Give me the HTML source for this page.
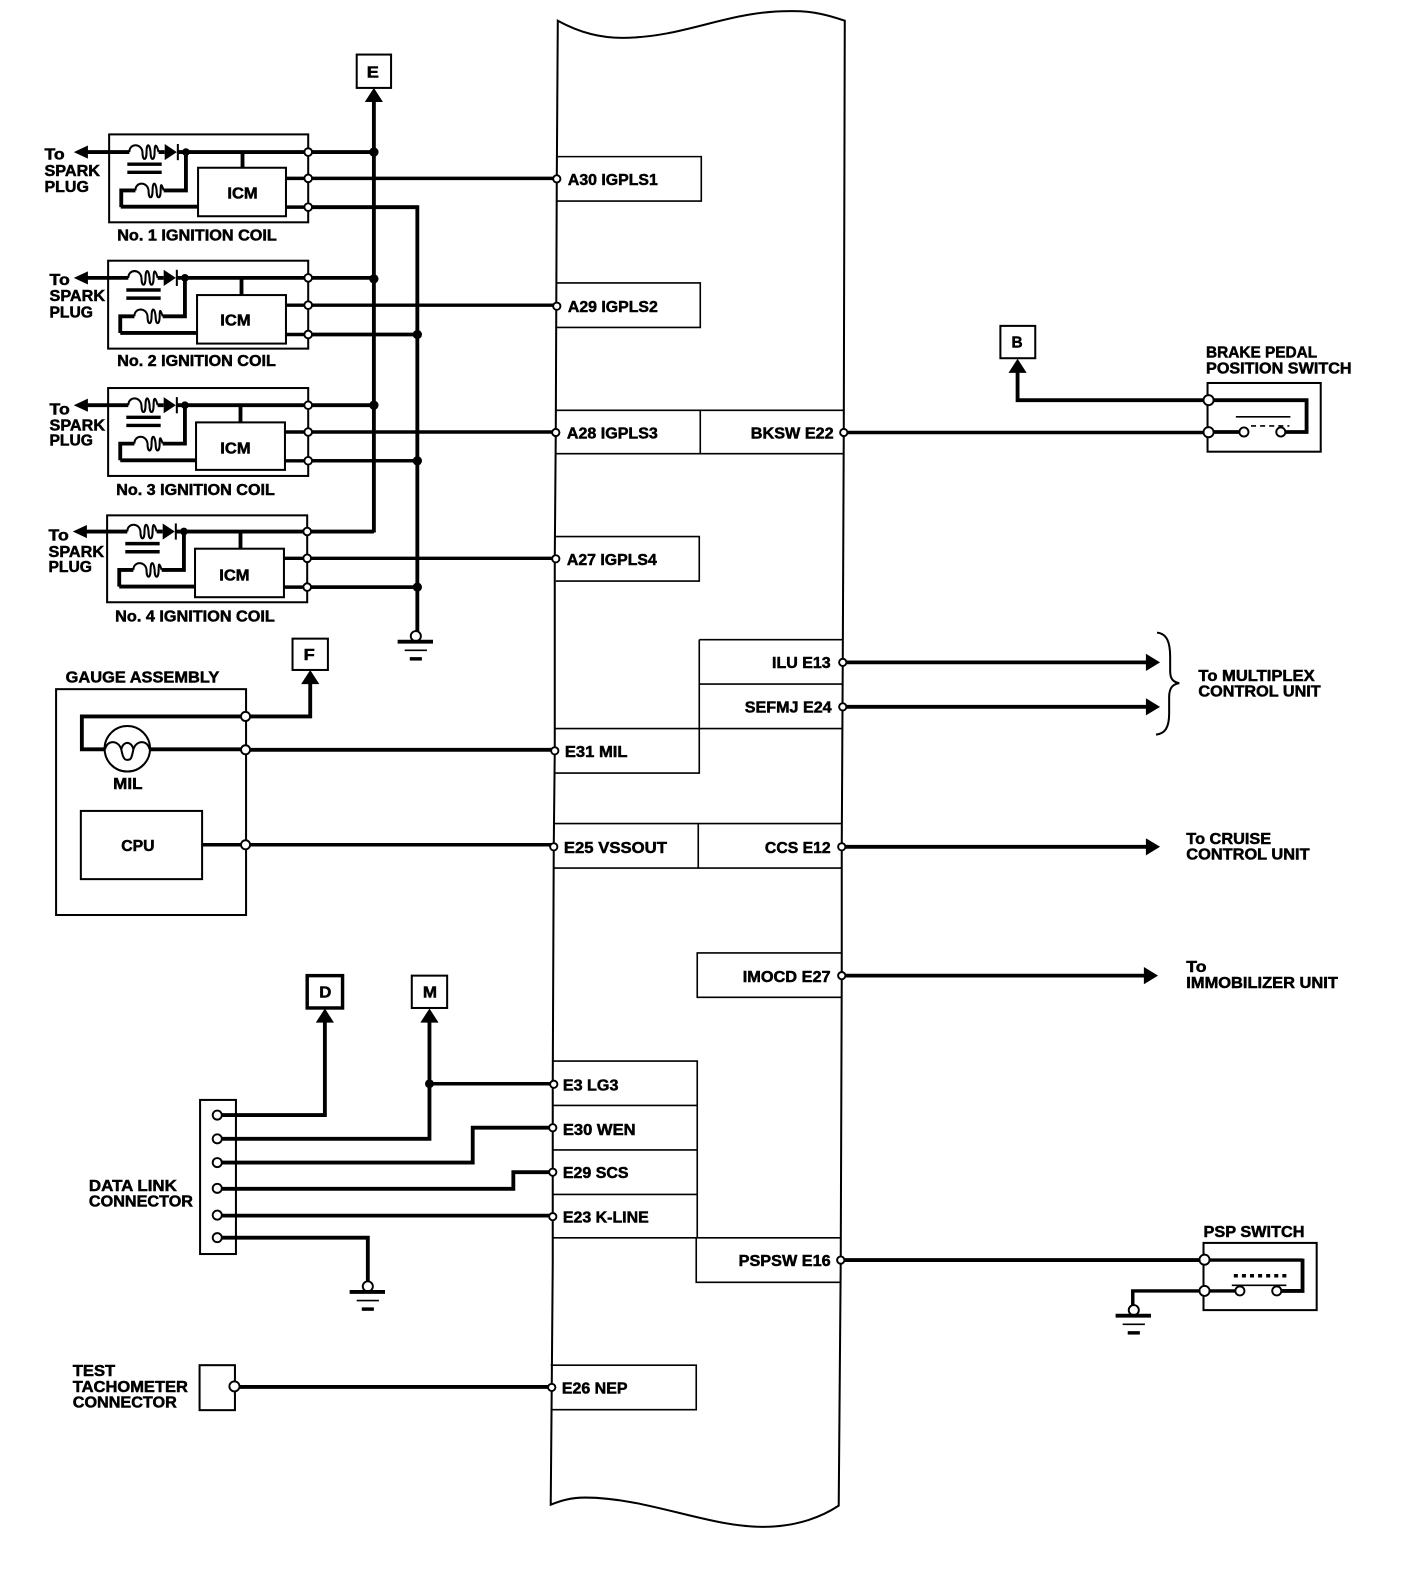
<!DOCTYPE html>
<html><head><meta charset="utf-8"><style>
html,body{margin:0;padding:0;background:#fff}
svg{display:block}
text{font-family:"Liberation Sans",Arial,sans-serif;font-weight:bold;font-size:15.5px;fill:#000;stroke:#000;stroke-width:.5px}
.t{fill:none;stroke:#000;stroke-width:3.8}
.m{fill:none;stroke:#000;stroke-width:3.4}
.n{fill:none;stroke:#000;stroke-width:2}
.h{fill:none;stroke:#000;stroke-width:1.6}
.o{fill:#fff;stroke:#000;stroke-width:1.9}
.d{fill:#000}
</style></head><body>
<svg xmlns="http://www.w3.org/2000/svg" width="1408" height="1584" viewBox="0 0 1408 1584">
<defs>
<g id="coil">
<path class="n" d="M-56 0C-56-9-44-9-43 0C-43 9-39 9-39 0C-39-9-36-9-35 0C-35 9-31 9-31 0C-31-9-29-8-27 0"/>
<path class="t" d="M-27 0H-21"/>
<polygon class="d" points="-21,-8 -9,0 -21,8"/>
<path class="n" d="M-8-8V8"/>
<path class="m" d="M-58 12H-24M-58 20H-24"/>
<path class="n" d="M-50 38C-50 29-38 29-37 38C-37 47-33 47-33 38C-33 29-30 29-29 38C-29 47-25 47-25 38C-25 30-24 32-22 38"/>
<path class="t" d="M-50 38H-64V54.500M-22 38H0V0"/>
<circle class="d" cx="0" cy="0" r="3.800"/>
</g>
<polygon id="up" class="d" points="0,0 -9,14 9,14"/>
<polygon id="rt" class="d" points="0,0 -14,-8.500 -14,8.500"/>
<polygon id="lf" class="d" points="0,0 14,-6.500 14,6.500"/>
<g id="gnd">
<circle class="o" cx="0" cy="0" r="5"/>
<path class="t" d="M-18 5.500H17"/>
<path class="h" d="M-11 14H11"/>
<path class="m" d="M-6 22.500H6"/>
</g>
</defs>
<rect width="1408" height="1584" fill="#fff"/>
<g transform="scale(1.0105)">

<!-- ECM bus outline -->
<path class="n" d="M552 20.500C575 33 595 37.500 616 37.500C680 37 720 10 785 11C805 11 820 15 836 20.500L835 428L834 655L833 838L833 966L832 1247L830 1490C815 1500 790 1511 755 1511C700 1511 640 1482 579 1482C565 1482 555 1485 545 1489L546 1373L547 1250L547 1073L548 838L549 743L549 553L550 428L551 177Z"/>

<!-- Terminal tables -->
<path class="h" d="M551 155H694V199H551M551 280H693V324H551M550 406H835M550 449H835M693 406V449M550 531H692V575H550"/>
<path class="h" d="M692 633H834M692 677H834M549 721H834M692 633V765H549M548 815H833M548 859H833M691 815V859M833 943H690V987H833"/>
<path class="h" d="M547 1050H690V1225M547 1094H690M547 1138H690M547 1182H690M547 1225H832M689 1225V1269H832M545 1351H689V1395H545"/>

<!-- Ignition coils -->
<rect class="n" x="108" y="133" width="197" height="87"/>
<rect class="n" x="107" y="258" width="198" height="87"/>
<rect class="n" x="107" y="384" width="198" height="87"/>
<rect class="n" x="106" y="510" width="198" height="86"/>

<rect class="n" x="196" y="166" width="87" height="48"/>
<rect class="n" x="195" y="292" width="88" height="48"/>
<rect class="n" x="194" y="418" width="88" height="47"/>
<rect class="n" x="193" y="543" width="88" height="48"/>

<use href="#coil" x="184" y="150.500"/>
<use href="#coil" x="183" y="275"/>
<use href="#coil" x="183" y="401"/>
<use href="#coil" x="182" y="526"/>

<path class="t" d="M84 150.500H128M176 150.500H370M240 150.500V166M119.500 204.500H196"/>
<path class="t" d="M84 275H127M175 275H370M239 275V292M119 329.500H195"/>
<path class="t" d="M84 401H127M175 401H370M238 401V418M119 455.500H194"/>
<path class="t" d="M83 526H126M174 526H370M238 526V543M118 580.500H193"/>

<use href="#lf" x="73" y="150.500"/>
<use href="#lf" x="73" y="275"/>
<use href="#lf" x="73" y="401"/>
<use href="#lf" x="72" y="526"/>

<path class="m" d="M283 176.500H551M283 205H413M283 302H551M283 331H413M282 427.500H550M282 456H413M281 552.500H550M281 581H413"/>
<path class="t" d="M370 98V527M305 205H413V331M413 331V628"/>
<path class="m" d="M305 331H413M305 456H413M304 581H413"/>
<use href="#up" x="370" y="87"/>
<rect class="n" x="353" y="54" width="34" height="33"/>

<g class="d">
<circle cx="370" cy="150.500" r="4.600"/><circle cx="370" cy="276" r="4.600"/><circle cx="370" cy="401" r="4.600"/>
<circle cx="413" cy="331" r="4.600"/><circle cx="413" cy="456" r="4.600"/><circle cx="413" cy="581" r="4.600"/>
</g>
<g class="o">
<circle cx="305" cy="150.500" r="3.800"/><circle cx="305" cy="176.500" r="3.800"/><circle cx="305" cy="205" r="3.800"/>
<circle cx="305" cy="275" r="3.800"/><circle cx="305" cy="302" r="3.800"/><circle cx="305" cy="331" r="3.800"/>
<circle cx="305" cy="401" r="3.800"/><circle cx="305" cy="427.500" r="3.800"/><circle cx="305" cy="456" r="3.800"/>
<circle cx="304" cy="526" r="3.800"/><circle cx="304" cy="552.500" r="3.800"/><circle cx="304" cy="581" r="3.800"/>
</g>
<use href="#gnd" x="411.500" y="629.500"/>

<!-- Gauge assembly -->
<rect class="n" x="55.500" y="682" width="188" height="223.500"/>
<path class="t" d="M243 709H81V741.500H104"/>
<path class="t" d="M243 709H307V676"/>
<use href="#up" x="307" y="663"/>
<rect class="n" x="289.500" y="632" width="35" height="31"/>
<circle class="n" cx="126" cy="741" r="22.500"/>
<path class="n" d="M104 741.500C106 732 117 732 120 741.500C122 752 124 752 126 752C129 752 130 752 132 741.500C135 732 146 732 148 741.500"/>
<path class="n" d="M120 741.500C122 733 130 733 132 741.500"/>
<path class="t" d="M148 741.500H243M243 742H549"/>
<rect class="n" x="80" y="802.500" width="120" height="67.500"/>
<path class="m" d="M200 836H548"/>
<circle class="o" cx="243" cy="709" r="4.500"/>
<circle class="o" cx="243" cy="742" r="4.500"/>
<circle class="o" cx="243" cy="836" r="4.500"/>

<!-- Data link -->
<rect class="n" x="198" y="1088.500" width="35.500" height="152.500"/>
<path class="t" d="M215 1103.500H321.500V1010"/>
<use href="#up" x="321.500" y="998"/>
<rect class="m" x="304" y="965.500" width="35" height="32"/>
<path class="t" d="M215 1127H425V1010"/>
<use href="#up" x="425" y="998"/>
<rect class="n" x="407.500" y="965.500" width="35" height="32"/>
<path class="m" d="M425 1072.500H548"/>
<circle class="d" cx="425" cy="1072.500" r="4.400"/>
<path class="t" d="M215 1150.500H467.800V1116H547"/>
<path class="t" d="M215 1176.500H508V1160H547"/>
<path class="t" d="M215 1203H547"/>
<path class="t" d="M215 1224.800H364V1268"/>
<use href="#gnd" x="364" y="1273"/>
<g class="o">
<circle cx="215" cy="1103.500" r="4.500"/><circle cx="215" cy="1127" r="4.500"/><circle cx="215" cy="1150.500" r="4.500"/>
<circle cx="215" cy="1176" r="4.500"/><circle cx="215" cy="1202.500" r="4.500"/><circle cx="215" cy="1224.800" r="4.500"/>
</g>

<!-- Test tach -->
<rect class="n" x="197.500" y="1351" width="35" height="44.500"/>
<path class="t" d="M232 1372.500H546"/>
<circle class="o" cx="232" cy="1372" r="5"/>

<!-- Brake switch -->
<path class="m" d="M835 428H1196"/>
<path class="t" d="M1196 396H1007V368M1196 396H1293V427.500H1267M1196 427.500H1231"/>
<use href="#up" x="1007" y="355"/>
<rect class="n" x="990" y="322.500" width="34.500" height="32"/>
<rect class="n" x="1195" y="379" width="112" height="68"/>
<path class="h" d="M1223 412.500H1277"/>
<path class="h" stroke-dasharray="5 4" d="M1238 421.500H1276"/>
<circle class="o" cx="1231" cy="427.500" r="4.500"/>
<circle class="o" cx="1267.500" cy="427.500" r="4.500"/>
<circle class="o" cx="1196" cy="396" r="5"/>
<circle class="o" cx="1196" cy="427.700" r="5"/>

<!-- Outputs -->
<path class="t" d="M834 655.500H1136M834 699.500H1136M833 838H1136M833 965.500H1134"/>
<use href="#rt" x="1148" y="655.500"/>
<use href="#rt" x="1148" y="699.500"/>
<use href="#rt" x="1148" y="838"/>
<use href="#rt" x="1146" y="965.500"/>
<path class="n" d="M1145 626C1155 627 1158 636 1158 650V664C1158 672 1161 675 1167 676C1161 677 1157 680 1157 690V706C1157 720 1153 726 1144 727"/>

<!-- PSP switch -->
<path class="t" d="M832 1247H1192"/>
<path class="m" d="M1192 1247H1289"/>
<path class="t" d="M1289 1245.500V1277.500H1263"/>
<path class="m" d="M1192 1277.500H1227M1192 1277.500H1121V1292"/>
<rect class="n" x="1191" y="1230" width="112" height="66.500"/>
<path class="h" d="M1219 1272H1273"/>
<path class="m" stroke-dasharray="4 4" d="M1221 1262.500H1273"/>
<circle class="o" cx="1227" cy="1277.500" r="4.500"/>
<circle class="o" cx="1263.500" cy="1277.500" r="4.500"/>
<circle class="o" cx="1192" cy="1246.600" r="5"/>
<circle class="o" cx="1192" cy="1277.500" r="5"/>
<use href="#gnd" x="1122" y="1296.500"/>

<!-- Bus terminals -->
<g class="o">
<circle cx="551" cy="177" r="3.600"/><circle cx="551" cy="303" r="3.600"/><circle cx="550" cy="428" r="3.600"/><circle cx="550" cy="553" r="3.600"/>
<circle cx="549" cy="743" r="3.600"/><circle cx="548" cy="838" r="3.600"/><circle cx="548" cy="1073" r="3.600"/><circle cx="547" cy="1116" r="3.600"/>
<circle cx="547" cy="1160" r="3.600"/><circle cx="547" cy="1204" r="3.600"/><circle cx="546" cy="1373" r="3.600"/>
<circle cx="835" cy="428" r="3.600"/><circle cx="834" cy="655.500" r="3.600"/><circle cx="834" cy="699.500" r="3.600"/><circle cx="833" cy="838" r="3.600"/>
<circle cx="833" cy="965.500" r="3.600"/><circle cx="832" cy="1247" r="3.600"/>
</g>

<!-- Labels -->
<text x="363" y="76.500" textLength="12" lengthAdjust="spacingAndGlyphs">E</text>
<text x="300.500" y="653" textLength="11" lengthAdjust="spacingAndGlyphs">F</text>
<text x="1001" y="344" textLength="11" lengthAdjust="spacingAndGlyphs">B</text>
<text x="316" y="987" textLength="12" lengthAdjust="spacingAndGlyphs">D</text>
<text x="418.500" y="987" textLength="14" lengthAdjust="spacingAndGlyphs">M</text>

<text x="44" y="158" textLength="20" lengthAdjust="spacingAndGlyphs">To</text>
<text x="44" y="174" textLength="55" lengthAdjust="spacingAndGlyphs">SPARK</text>
<text x="44" y="190" textLength="44" lengthAdjust="spacingAndGlyphs">PLUG</text>
<text x="49" y="282" textLength="20" lengthAdjust="spacingAndGlyphs">To</text>
<text x="49" y="298" textLength="55" lengthAdjust="spacingAndGlyphs">SPARK</text>
<text x="49" y="314" textLength="43" lengthAdjust="spacingAndGlyphs">PLUG</text>
<text x="49" y="410" textLength="20" lengthAdjust="spacingAndGlyphs">To</text>
<text x="49" y="426" textLength="55" lengthAdjust="spacingAndGlyphs">SPARK</text>
<text x="49" y="441" textLength="43" lengthAdjust="spacingAndGlyphs">PLUG</text>
<text x="48" y="535" textLength="20" lengthAdjust="spacingAndGlyphs">To</text>
<text x="48" y="551" textLength="55" lengthAdjust="spacingAndGlyphs">SPARK</text>
<text x="48" y="566" textLength="43" lengthAdjust="spacingAndGlyphs">PLUG</text>

<text x="225" y="196.500" textLength="30" lengthAdjust="spacingAndGlyphs">ICM</text>
<text x="218" y="322" textLength="30" lengthAdjust="spacingAndGlyphs">ICM</text>
<text x="218" y="449" textLength="30" lengthAdjust="spacingAndGlyphs">ICM</text>
<text x="217" y="574.500" textLength="30" lengthAdjust="spacingAndGlyphs">ICM</text>

<text x="116" y="238" textLength="158" lengthAdjust="spacingAndGlyphs">No. 1 IGNITION COIL</text>
<text x="116" y="362" textLength="157" lengthAdjust="spacingAndGlyphs">No. 2 IGNITION COIL</text>
<text x="115" y="490" textLength="157" lengthAdjust="spacingAndGlyphs">No. 3 IGNITION COIL</text>
<text x="114" y="615" textLength="158" lengthAdjust="spacingAndGlyphs">No. 4 IGNITION COIL</text>

<text x="65" y="675.500" textLength="152" lengthAdjust="spacingAndGlyphs">GAUGE ASSEMBLY</text>
<text x="112" y="781" textLength="29" lengthAdjust="spacingAndGlyphs">MIL</text>
<text x="120" y="842" textLength="33" lengthAdjust="spacingAndGlyphs">CPU</text>

<text x="562" y="183" textLength="89" lengthAdjust="spacingAndGlyphs">A30 IGPLS1</text>
<text x="562" y="309" textLength="89" lengthAdjust="spacingAndGlyphs">A29 IGPLS2</text>
<text x="561" y="434" textLength="90" lengthAdjust="spacingAndGlyphs">A28 IGPLS3</text>
<text x="561" y="559" textLength="89" lengthAdjust="spacingAndGlyphs">A27 IGPLS4</text>
<text x="743" y="434" textLength="82" lengthAdjust="spacingAndGlyphs">BKSW E22</text>
<text x="764" y="661" textLength="58" lengthAdjust="spacingAndGlyphs">ILU E13</text>
<text x="737" y="705" textLength="86" lengthAdjust="spacingAndGlyphs">SEFMJ E24</text>
<text x="559" y="749" textLength="62" lengthAdjust="spacingAndGlyphs">E31 MIL</text>
<text x="558" y="844" textLength="102" lengthAdjust="spacingAndGlyphs">E25 VSSOUT</text>
<text x="757" y="844" textLength="65" lengthAdjust="spacingAndGlyphs">CCS E12</text>
<text x="735" y="972" textLength="87" lengthAdjust="spacingAndGlyphs">IMOCD E27</text>
<text x="557" y="1079" textLength="55" lengthAdjust="spacingAndGlyphs">E3 LG3</text>
<text x="557" y="1123" textLength="72" lengthAdjust="spacingAndGlyphs">E30 WEN</text>
<text x="557" y="1166" textLength="65" lengthAdjust="spacingAndGlyphs">E29 SCS</text>
<text x="557" y="1210" textLength="85" lengthAdjust="spacingAndGlyphs">E23 K-LINE</text>
<text x="731" y="1253" textLength="91" lengthAdjust="spacingAndGlyphs">PSPSW E16</text>
<text x="556" y="1379" textLength="65" lengthAdjust="spacingAndGlyphs">E26 NEP</text>

<text x="1193.500" y="354" textLength="110" lengthAdjust="spacingAndGlyphs">BRAKE PEDAL</text>
<text x="1193.500" y="369.500" textLength="144" lengthAdjust="spacingAndGlyphs">POSITION SWITCH</text>
<text x="1186" y="674" textLength="115" lengthAdjust="spacingAndGlyphs">To MULTIPLEX</text>
<text x="1186" y="689.500" textLength="121" lengthAdjust="spacingAndGlyphs">CONTROL UNIT</text>
<text x="1174" y="835" textLength="84" lengthAdjust="spacingAndGlyphs">To CRUISE</text>
<text x="1174" y="850.500" textLength="122" lengthAdjust="spacingAndGlyphs">CONTROL UNIT</text>
<text x="1174" y="962" textLength="20" lengthAdjust="spacingAndGlyphs">To</text>
<text x="1174" y="977.500" textLength="150" lengthAdjust="spacingAndGlyphs">IMMOBILIZER UNIT</text>
<text x="1191" y="1224" textLength="100" lengthAdjust="spacingAndGlyphs">PSP SWITCH</text>
<text x="88" y="1178.500" textLength="87" lengthAdjust="spacingAndGlyphs">DATA LINK</text>
<text x="88" y="1194" textLength="103" lengthAdjust="spacingAndGlyphs">CONNECTOR</text>
<text x="72" y="1361.500" textLength="42" lengthAdjust="spacingAndGlyphs">TEST</text>
<text x="72" y="1377.500" textLength="114" lengthAdjust="spacingAndGlyphs">TACHOMETER</text>
<text x="72" y="1393" textLength="103" lengthAdjust="spacingAndGlyphs">CONNECTOR</text>
</g>
</svg>
</body></html>
